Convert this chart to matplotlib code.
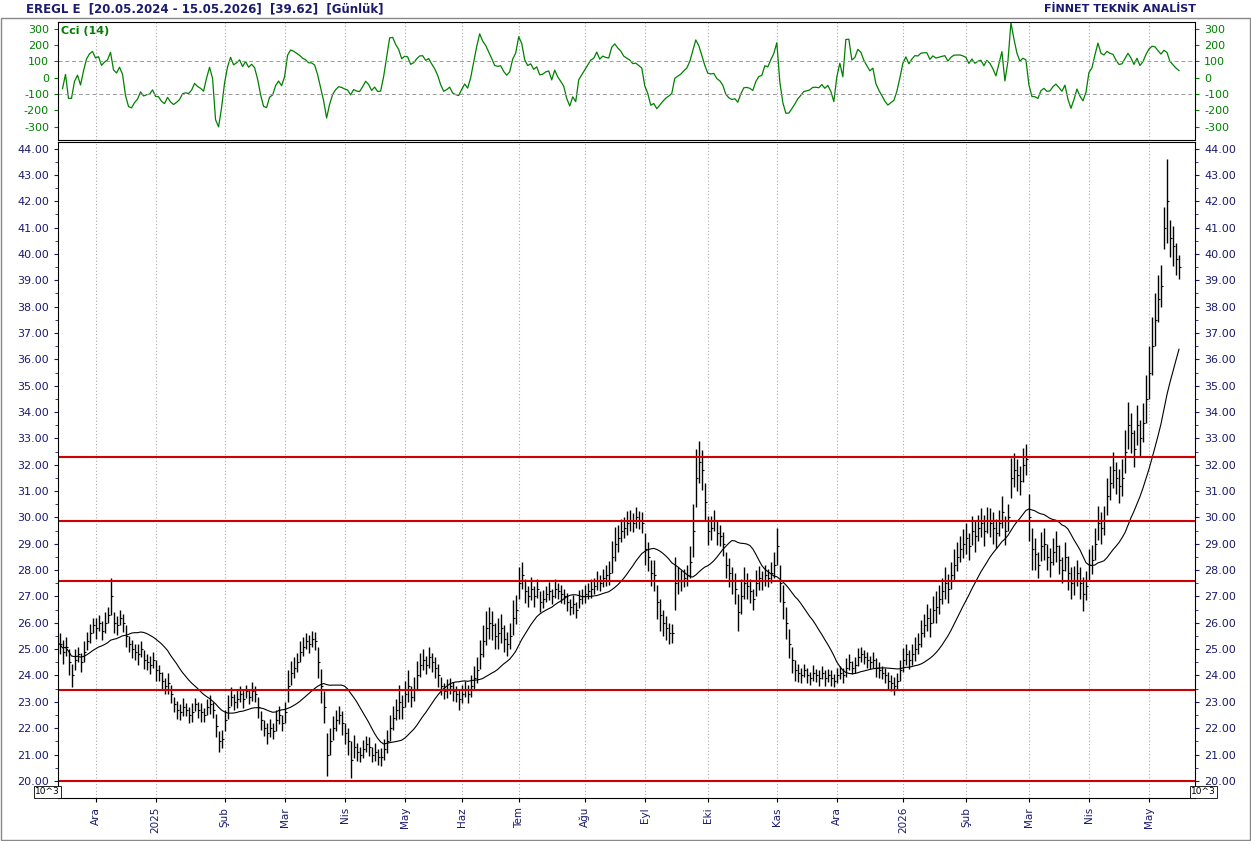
import numpy as np
import pandas as pd
import matplotlib
matplotlib.use("Agg")
import matplotlib.pyplot as plt
plt.rcParams['axes.unicode_minus'] = False

closes = [
25.2,24.9,25.1,24.5,24.0,24.6,24.8,24.5,24.9,25.3,
25.6,25.9,25.8,26.0,25.7,26.0,26.3,27.0,26.0,25.9,
26.2,26.0,25.5,25.2,25.0,24.9,24.8,25.0,24.6,24.5,
24.4,24.6,24.2,24.1,23.8,23.6,23.7,23.3,22.9,22.7,
22.6,22.8,22.7,22.5,22.6,22.9,22.7,22.6,22.5,22.8,
22.9,22.7,22.1,21.5,21.6,22.3,22.8,23.2,23.0,23.1,
23.3,23.1,23.4,23.2,23.4,23.3,22.8,22.3,22.0,21.8,
22.0,21.9,22.3,22.5,22.2,22.6,23.6,24.1,24.3,24.5,
24.9,25.1,25.3,25.2,25.4,25.3,24.5,23.6,22.8,21.0,
21.5,22.0,22.3,22.5,22.2,21.8,21.5,20.8,21.3,21.1,
21.0,21.2,21.4,21.3,21.0,21.1,20.9,20.9,21.2,21.5,
22.0,22.4,22.7,23.0,22.8,23.3,23.6,23.2,23.5,24.0,
24.4,24.6,24.4,24.7,24.5,24.3,24.0,23.6,23.4,23.5,
23.6,23.4,23.3,23.1,23.3,23.5,23.3,23.6,23.9,24.2,
24.8,25.3,25.8,26.0,25.9,25.5,25.6,25.8,25.4,25.2,
25.5,26.2,26.5,27.5,27.8,27.2,27.0,27.3,27.0,27.3,
26.8,26.9,27.1,27.2,27.0,27.3,27.2,27.1,27.0,26.8,
26.6,26.7,26.5,26.9,27.0,27.1,27.2,27.3,27.4,27.6,
27.5,27.7,27.8,27.9,28.5,29.0,29.2,29.5,29.6,29.8,
29.9,29.8,30.0,29.9,29.8,28.8,28.5,27.9,27.8,26.8,
26.3,26.0,25.8,25.6,25.6,27.5,27.6,27.6,27.7,27.8,
28.3,29.5,31.5,32.1,31.8,30.6,29.5,29.6,29.9,29.4,
29.3,29.0,28.2,27.9,27.6,27.3,26.4,27.0,27.5,27.4,
27.2,26.9,27.5,27.7,27.6,27.8,27.7,27.9,28.2,28.9,
27.5,26.8,26.0,25.2,24.6,24.2,24.1,24.0,24.2,24.0,
23.9,24.1,24.0,23.9,24.1,23.9,24.0,23.9,23.8,24.0,
24.1,24.0,24.3,24.5,24.3,24.4,24.7,24.8,24.7,24.6,
24.5,24.6,24.3,24.2,24.1,24.0,23.8,23.7,23.6,23.8,
24.2,24.6,24.8,24.6,24.8,25.0,25.2,25.6,25.9,26.2,
26.0,26.5,26.6,26.9,27.2,27.5,27.3,27.8,28.2,28.5,
28.8,29.0,29.2,28.9,29.5,29.3,29.6,29.8,29.5,29.9,
29.8,29.6,29.4,29.8,30.2,29.5,30.0,31.5,31.8,31.6,
31.4,32.0,32.2,30.0,28.8,28.6,28.2,28.9,29.0,28.5,
28.3,28.7,28.9,28.4,28.0,28.5,27.9,27.5,27.6,27.9,
27.5,27.1,27.4,28.2,28.4,29.0,29.8,29.6,29.9,30.8,
31.3,31.8,31.5,31.2,31.5,32.5,33.5,33.2,32.6,33.5,
33.0,33.6,34.5,35.5,36.5,37.5,38.3,38.8,41.0,42.0,
40.6,40.3,39.8,39.5]

spreads = [
0.8,0.9,0.7,1.0,0.9,0.8,0.6,0.7,0.8,0.7,
0.7,0.6,0.8,0.6,0.7,0.8,0.6,1.4,0.8,0.7,
0.6,0.7,0.8,0.6,0.7,0.6,0.8,0.6,0.7,0.6,
0.7,0.6,0.8,0.6,0.7,0.6,0.8,0.7,0.6,0.7,
0.6,0.7,0.5,0.6,0.7,0.5,0.6,0.7,0.5,0.6,
0.7,0.6,0.9,0.8,0.7,0.8,0.9,0.7,0.6,0.7,
0.6,0.7,0.5,0.6,0.7,0.6,0.8,0.7,0.6,0.8,
0.7,0.6,0.8,0.7,0.6,0.8,1.2,0.9,0.8,0.7,
0.8,0.7,0.6,0.7,0.6,0.7,1.2,1.3,1.2,1.6,
1.0,0.9,0.8,0.7,0.9,0.8,1.0,1.4,0.9,0.7,
0.6,0.7,0.6,0.7,0.6,0.7,0.6,0.7,0.8,0.9,
1.0,0.9,0.8,1.3,0.9,1.0,1.2,0.8,0.9,1.1,
0.9,0.8,0.7,0.8,0.7,0.8,0.9,0.7,0.6,0.7,
0.6,0.7,0.6,0.8,0.7,0.6,0.7,0.8,0.9,1.0,
1.1,1.2,1.3,1.2,1.1,1.0,1.2,1.1,1.0,0.9,
1.0,1.3,1.1,1.2,1.0,0.9,0.8,0.9,0.8,0.7,
0.8,0.7,0.6,0.7,0.6,0.7,0.6,0.7,0.6,0.7,
0.6,0.7,0.6,0.7,0.6,0.7,0.6,0.7,0.6,0.7,
0.6,0.7,0.8,0.9,1.2,1.3,1.0,0.9,0.8,0.9,
0.8,0.7,0.8,0.7,0.8,1.2,1.1,1.0,1.2,1.3,
1.2,1.0,0.9,0.8,0.7,2.0,1.0,0.8,0.7,0.8,
1.2,2.0,2.2,1.6,1.5,1.4,1.1,0.9,0.8,0.9,
0.8,0.9,1.0,1.1,1.0,1.2,1.4,1.3,1.2,1.0,
0.9,0.8,1.0,0.9,0.7,0.8,0.7,0.8,1.0,1.4,
1.4,1.3,1.2,1.1,1.0,0.8,0.7,0.6,0.5,0.6,
0.5,0.6,0.5,0.6,0.5,0.6,0.5,0.6,0.5,0.6,
0.5,0.6,0.7,0.6,0.5,0.6,0.7,0.6,0.5,0.6,
0.5,0.6,0.7,0.6,0.5,0.6,0.7,0.6,0.7,0.6,
0.8,0.9,0.8,0.7,0.8,0.9,0.8,1.0,0.9,1.0,
1.1,1.0,1.2,1.1,1.0,1.2,1.1,1.0,1.2,1.1,
1.0,1.1,1.2,1.0,1.1,1.2,1.0,1.1,1.2,1.0,
1.1,1.2,1.1,1.0,1.2,1.1,1.0,1.5,1.3,1.2,
1.1,1.3,1.2,1.8,1.6,1.2,1.0,1.1,1.2,1.0,
1.1,1.0,1.2,1.1,1.0,1.1,1.3,1.2,1.1,1.0,
1.2,1.3,1.1,1.2,1.1,1.2,1.3,1.2,1.1,1.4,
1.3,1.4,1.2,1.3,1.4,1.6,1.8,1.5,1.4,1.5,
1.4,1.5,1.8,2.0,2.2,2.0,1.8,1.6,1.6,3.2,
1.4,1.5,1.2,0.9]

month_ticks = [12, 32, 55, 75, 95, 115, 134, 153, 175, 195, 216, 239, 259, 281, 302, 323, 343, 363]
month_labels = ["Ara", "2025", "Şub", "Mar", "Nis", "May", "Haz", "Tem", "Ağu", "Eyl",
                "Eki", "Kas", "Ara", "2026", "Şub", "Mar", "Nis", "May"]
levels = [32.3, 29.85, 27.6, 23.45, 20.0]

c = np.array(closes)
s = np.array(spreads)
hi = c + s * 0.5
lo = c - s * 0.5
n = len(c)
idx = np.arange(n)

ma = pd.Series(c).rolling(20, min_periods=1).mean().values
tp = pd.Series((hi + lo + c) / 3)
sma = tp.rolling(14, min_periods=1).mean()
mad = tp.rolling(14, min_periods=1).apply(lambda v: np.mean(np.abs(v - v.mean())), raw=True)
cci = ((tp - sma) / (0.015 * mad.replace(0, np.nan))).values

navy = "#1a1a6e"
green = "#008000"
W, H = 1251, 841
fig = plt.figure(figsize=(W / 100, H / 100), dpi=100)
fig.patch.set_facecolor("white")
L, R = 58, 1195
ax1 = fig.add_axes([L / W, 1 - 140 / H, (R - L) / W, 118 / H])
ax2 = fig.add_axes([L / W, 1 - 798 / H, (R - L) / W, 656 / H])
xlim = (-0.5, (R - 60) / 3)

ax1.plot(idx, cci, color=green, lw=0.9)
ax1.set_xlim(*xlim)
ax1.set_ylim(-380, 340)
ax1.set_yticks([300, 200, 100, 0, -100, -200, -300])
for yv in (100, -100):
    ax1.axhline(yv, color="#999999", lw=0.7, ls=(0, (4, 3)))
ax1.text(0.003, 0.97, "Cci (14)", transform=ax1.transAxes, color=green, fontsize=8,
         fontweight="bold", va="top", ha="left")

ax2.vlines(idx, lo, hi, color="black", lw=1.0)
ax2.hlines(c, idx, idx + 0.8, color="black", lw=0.8)
ax2.plot(idx, ma, color="black", lw=0.8)
for lv in levels:
    ax2.axhline(lv, color="#d00000", lw=1.5)
ax2.set_xlim(*xlim)
ax2.set_ylim(19.35, 44.25)
ax2.set_yticks(np.arange(20, 45, 1))
ax2.set_yticks(np.arange(19.5, 44.5, 0.5), minor=True)
ax2.yaxis.set_major_formatter(matplotlib.ticker.FormatStrFormatter("%.2f"))

for ax, col in ((ax1, green), (ax2, navy)):
    ax.set_xticks(month_ticks)
    ax.grid(axis="x", color="#aaaaaa", ls=(0, (1, 2)), lw=0.8)
    ax.tick_params(axis="y", which="both", left=True, right=True, labelleft=True, labelright=True,
                   labelsize=8, colors=col, length=3, direction="out")
    ax.tick_params(axis="y", which="minor", length=2)
    for t in ax.get_yticklabels():
        t.set_color(col)
    for sp in ax.spines.values():
        sp.set_color("black")
        sp.set_linewidth(0.8)

ax1.tick_params(axis="x", bottom=False, labelbottom=False)
ax2.set_xticklabels(month_labels, rotation=90, fontsize=7.5, color=navy)
ax2.tick_params(axis="x", length=3, colors="black", labelcolor=navy, direction="out")

fig.text(26 / W, 1 - 9 / H, "EREGL E  [20.05.2024 - 15.05.2026]  [39.62]  [Günlük]",
         color=navy, fontsize=8.5, fontweight="bold", va="center", ha="left")
fig.text(1196 / W, 1 - 9 / H, "FİNNET TEKNİK ANALİST", color=navy, fontsize=8,
         fontweight="bold", va="center", ha="right")
for xp, ha in ((35, "left"), (1216, "right")):
    fig.text(xp / W, 1 - 792 / H, "10^3", fontsize=6.5, color="black", ha=ha, va="center",
             bbox=dict(boxstyle="square,pad=0.15", fc="white", ec="black", lw=0.6))

fig.add_artist(plt.Rectangle((1 / W, 1 / H), 1 - 2 / W, 1 - 19 / H, transform=fig.transFigure,
                             fill=False, ec="#888888", lw=1))
fig.savefig("out.png", dpi=100)
